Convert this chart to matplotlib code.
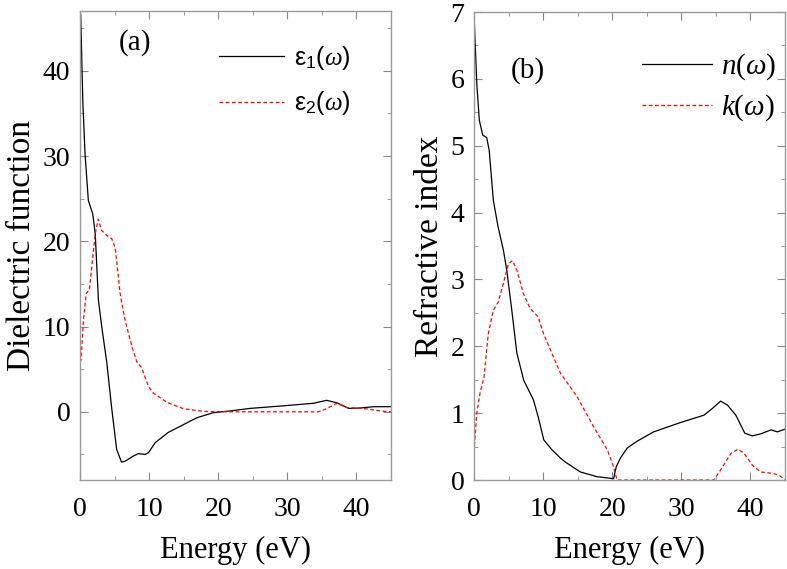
import numpy as np
import matplotlib.pyplot as plt
from matplotlib.ticker import MultipleLocator

plt.rcParams['font.family'] = 'Liberation Serif'
plt.rcParams['mathtext.fontset'] = 'custom'
plt.rcParams['mathtext.rm'] = 'Liberation Sans'
plt.rcParams['mathtext.it'] = 'Liberation Serif:italic'

# (a) dielectric function
E1 = [0, 0.1, 0.4, 0.72, 1.2, 1.84, 2.2, 2.66, 3.14, 3.87, 4.6, 5.3, 6.0, 6.5, 7.7,
      8.45, 9.4, 9.9, 10.9, 12.8, 14.5, 16.9, 19.3, 21.7, 24.6, 29.4, 33.8, 35.7,
      37.2, 38.9, 40.6, 42.5, 45]
eps1 = [47, 46.5, 36.5, 30.3, 24.8, 23.2, 20.9, 13.1, 10, 5.8, 0.3, -4.4, -5.9, -5.8,
        -5.2, -4.9, -5.0, -4.8, -3.6, -2.4, -1.7, -0.7, -0.1, 0.1, 0.4, 0.7, 1.0, 1.35,
        1.05, 0.4, 0.45, 0.6, 0.6]
E2 = [0, 0.15, 0.5, 0.9, 1.35, 1.7, 2.2, 2.65, 3.1, 3.87, 4.6, 5.1, 5.8, 6.5, 7.5,
      8.2, 8.9, 9.9, 10.6, 12.6, 15, 17.9, 21.7, 34.5, 35.5, 37.2, 38.6, 41.5, 43.5, 45]
eps2 = [5.8, 6.1, 10.8, 13.9, 14.3, 17, 20.9, 22.6, 21.3, 20.7, 20.3, 19.2, 13.9, 10.8,
        7.7, 5.9, 5.2, 3.0, 2.2, 1.1, 0.35, 0.05, 0, 0, 0.3, 1.0, 0.5, 0.35, 0.1, 0.0]

# (b) refractive index
En = [0, 0.4, 0.77, 1.26, 1.84, 2.2, 2.8, 3.5, 4.25, 4.74, 5.47, 6.2, 7.2, 8.6, 9.3,
      10.1, 11.3, 12.5, 13.2, 15.4, 17.8, 20.2, 20.6, 21.2, 22.2, 23.6, 26, 29.9, 33.3,
      34.5, 35.7, 36.7, 37.9, 39.2, 40.3, 41.5, 43, 43.9, 45]
n = [6.98, 5.93, 5.38, 5.16, 5.12, 4.93, 4.18, 3.78, 3.44, 3.14, 2.54, 1.9, 1.49, 1.2,
     0.94, 0.6, 0.45, 0.33, 0.27, 0.12, 0.05, 0.02, 0.2, 0.33, 0.48, 0.58, 0.72, 0.86,
     0.97, 1.07, 1.18, 1.12, 0.97, 0.7, 0.66, 0.69, 0.75, 0.72, 0.76]
Ek = [0, 0.4, 0.87, 1.45, 2.07, 2.8, 3.5, 4.25, 4.98, 5.6, 6.2, 7.15, 8.1, 9.3, 10.06,
      12.5, 14.9, 17.3, 19.3, 20.2, 20.7, 34.7, 35.7, 37.2, 38.2, 39.1, 40.3, 41.5,
      43.2, 44.2, 45]
k = [0.42, 1.0, 1.3, 1.54, 2.19, 2.54, 2.66, 2.94, 3.24, 3.28, 3.14, 2.79, 2.57, 2.44,
     2.19, 1.6, 1.25, 0.8, 0.45, 0.2, 0.0, 0.0, 0.15, 0.4, 0.46, 0.4, 0.22, 0.12, 0.1,
     0.07, 0.0]

dash = (0, (3, 2))
fig = plt.figure(figsize=(7.87, 5.69), dpi=100)
ax1 = fig.add_axes([0.1017, 0.1564, 0.395, 0.824])
ax2 = fig.add_axes([0.6023, 0.1564, 0.395, 0.8225])

ax1.plot(E1, eps1, color='black', lw=0.9, label='ε$_1$($\\omega$)')
ax1.plot(E2, eps2, color='red', lw=0.9, ls=dash, label='ε$_2$($\\omega$)')
ax1.set_xlim(0, 45)
ax1.set_ylim(-8, 47)
ax1.set_yticks([0, 10, 20, 30, 40])
ax1.yaxis.set_minor_locator(MultipleLocator(5))
ax1.set_ylabel('Dielectric function', fontsize=24, labelpad=4)
ax1.text(0.177, 0.934, '(a)', transform=ax1.transAxes, fontsize=21,
         ha='center', va='center')
ax1.legend(loc='upper left', bbox_to_anchor=(0.447, 0.93), frameon=False,
           borderpad=0, borderaxespad=0,
           prop={'family': 'Liberation Sans', 'size': 18}, handlelength=2.6,
           handletextpad=0.4, labelspacing=0.7)

ax2.plot(En, n, color='black', lw=0.9, label='$n$($\\omega$)')
ax2.plot(Ek, k, color='red', lw=0.9, ls=dash, label='$k$($\\omega$)')
ax2.set_xlim(0, 45)
ax2.set_ylim(0, 7)
ax2.yaxis.set_major_locator(MultipleLocator(1))
ax2.yaxis.set_minor_locator(MultipleLocator(0.5))
ax2.set_ylabel('Refractive index', fontsize=24, labelpad=4)
ax2.text(0.174, 0.876, '(b)', transform=ax2.transAxes, fontsize=21,
         ha='center', va='center')
ax2.legend(loc='upper left', bbox_to_anchor=(0.54, 0.915), frameon=False,
           borderpad=0, borderaxespad=0,
           prop={'family': 'Liberation Serif', 'size': 21}, handlelength=2.4,
           handletextpad=0.3, labelspacing=0.35)

for ax in (ax1, ax2):
    ax.set_xticks([0, 10, 20, 30, 40])
    ax.xaxis.set_minor_locator(MultipleLocator(5))
    ax.set_xlabel('Energy (eV)', fontsize=22, labelpad=10)
    ax.tick_params(which='both', direction='in', top=True, right=True,
                   color='#888888', labelsize=20)
    ax.tick_params(axis='x', pad=12)
    ax.tick_params(axis='y', pad=7)
    ax.tick_params(which='major', length=6)
    ax.tick_params(which='minor', length=3)
    for s in ax.spines.values():
        s.set_color('#999999')
        s.set_linewidth(1.0)

plt.savefig('out.png', dpi=100)
